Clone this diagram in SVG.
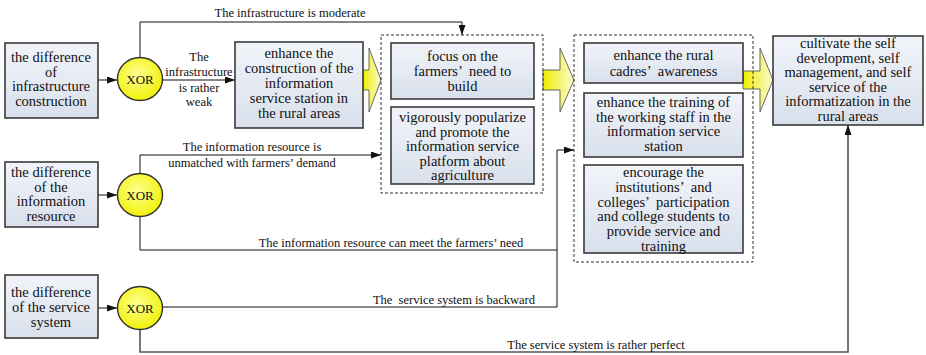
<svg xmlns="http://www.w3.org/2000/svg" width="926" height="355" viewBox="0 0 926 355">
  <style>
    .box { fill: url(#boxFill); stroke: #3a3a3a; stroke-width: 1.6; }
    .grp { fill: none; stroke: #333; stroke-width: 1; stroke-dasharray: 3 2; }
    .xor { fill: url(#xorFill); stroke: #333; stroke-width: 1.4; }
    .big { fill: url(#arrowFill); stroke: #666; stroke-width: 1; }
    .t { font-family: "Liberation Serif", "Times New Roman", serif; font-size: 14.5px; fill: #111; text-anchor: middle; }
    .lbl { font-family: "Liberation Serif", "Times New Roman", serif; font-size: 12.5px; fill: #111; text-anchor: middle; }
    .x { font-family: "Liberation Serif", "Times New Roman", serif; font-size: 13px; fill: #111; text-anchor: middle; }
    .ln { fill: none; stroke: #111; stroke-width: 1; }
    .lg { fill: none; stroke: #555; stroke-width: 1.6; }
  </style>
  <defs>
    <linearGradient id="boxFill" x1="0" y1="0" x2="0" y2="1">
      <stop offset="0" stop-color="#f1f4f9"/>
      <stop offset="1" stop-color="#d9e0ec"/>
    </linearGradient>
    <radialGradient id="xorFill" cx="0.45" cy="0.4" r="0.65">
      <stop offset="0" stop-color="#ffff90"/>
      <stop offset="1" stop-color="#f0f000"/>
    </radialGradient>
    <linearGradient id="arrowFill" x1="0" y1="0" x2="1" y2="0">
      <stop offset="0" stop-color="#eeee00"/>
      <stop offset="1" stop-color="#fbfbd2"/>
    </linearGradient>
    <marker id="ah" viewBox="0 0 10 7" refX="10" refY="3.5" markerWidth="11" markerHeight="7" markerUnits="userSpaceOnUse" orient="auto">
      <path d="M0,0 L10,3.5 L0,7 z" fill="#111"/>
    </marker>
  </defs>

  <!-- connectors -->
  <g id="connectors">
    <path class="ln" d="M98,80 H117" marker-end="url(#ah)"/>
    <path class="ln" d="M163,80 H235" marker-end="url(#ah)"/>
    <path class="ln" d="M140,58 V22 H462 V35" marker-end="url(#ah)"/>
    <path class="ln" d="M98,195 H117" marker-end="url(#ah)"/>
    <path class="ln" d="M140,174 V155 H381" marker-end="url(#ah)"/>
    <path class="ln" d="M140,216 V250 H557"/>
    <path class="ln" d="M98,308 H117" marker-end="url(#ah)"/>
    <path class="ln" d="M163,307 H557 V150 H574" marker-end="url(#ah)"/>
    <path class="lg" d="M140,330 V352 H848 V125" marker-end="url(#ah)"/>

    <text class="lbl" x="290" y="17">The infrastructure is moderate</text>
    <text class="lbl" x="199" y="61">The</text>
    <text class="lbl" x="199" y="76">infrastructure</text>
    <text class="lbl" x="199" y="92">is rather</text>
    <text class="lbl" x="199" y="106">weak</text>
    <text class="lbl" x="252" y="151">The information resource is</text>
    <text class="lbl" x="252" y="167">unmatched with farmers’ demand</text>
    <text class="lbl" x="391" y="247">The information resource can meet the farmers’ need</text>
    <text class="lbl" x="454" y="304" xml:space="preserve">The  service system is backward</text>
    <text class="lbl" x="596" y="349">The service system is rather perfect</text>
  </g>

  <!-- block arrows between stages -->
  <g id="flow1"><path class="big" d="M363,70 H369 V48 L381,80 L369,112 V90 H363 z"/></g>
  <g id="flow2"><path class="big" d="M543,70 H560 V48 L574,80 L560,112 V90 H543 z"/></g>
  <g id="flow3"><path class="big" d="M743,71 H760 V48 L773,80 L760,112 V89 H743 z"/></g>

  <!-- sources -->
  <g id="diff-infra">
    <rect class="box" x="5" y="43" width="93" height="75"/>
    <text class="t" x="51" y="62">the difference</text>
    <text class="t" x="51" y="76.5">of</text>
    <text class="t" x="51" y="91">infrastructure</text>
    <text class="t" x="51" y="105.5">construction</text>
  </g>
  <g id="diff-resource">
    <rect class="box" x="5" y="162" width="93" height="65"/>
    <text class="t" x="51" y="177">the difference</text>
    <text class="t" x="51" y="191.5">of the</text>
    <text class="t" x="51" y="206">information</text>
    <text class="t" x="51" y="220.5">resource</text>
  </g>
  <g id="diff-service">
    <rect class="box" x="5" y="275" width="93" height="63"/>
    <text class="t" x="51" y="297">the difference</text>
    <text class="t" x="51" y="312">of the service</text>
    <text class="t" x="51" y="327">system</text>
  </g>

  <!-- gates -->
  <g id="xor1"><ellipse class="xor" cx="140" cy="79" rx="22.5" ry="21.5"/><text class="x" x="140" y="83.5">XOR</text></g>
  <g id="xor2"><ellipse class="xor" cx="140" cy="195" rx="22.5" ry="21.5"/><text class="x" x="140" y="199.5">XOR</text></g>
  <g id="xor3"><ellipse class="xor" cx="140" cy="308" rx="22.5" ry="21.5"/><text class="x" x="140" y="312.5">XOR</text></g>

  <!-- stage 1 -->
  <g id="station">
    <rect class="box" x="235" y="42" width="128" height="86"/>
    <text class="t" x="299" y="58">enhance the</text>
    <text class="t" x="299" y="73">construction of the</text>
    <text class="t" x="299" y="88">information</text>
    <text class="t" x="299" y="103">service station in</text>
    <text class="t" x="299" y="118">the rural areas</text>
  </g>

  <!-- stage 2 -->
  <g id="stage2">
    <rect class="grp" x="381" y="35" width="162" height="158"/>
    <g id="farmers-need">
      <rect class="box" x="391" y="43" width="143" height="56"/>
      <text class="t" x="462.5" y="61">focus on the</text>
      <text class="t" x="462.5" y="76" xml:space="preserve">farmers’  need to</text>
      <text class="t" x="462.5" y="91">build</text>
    </g>
    <g id="platform">
      <rect class="box" x="391" y="107" width="143" height="77"/>
      <text class="t" x="462.5" y="122">vigorously popularize</text>
      <text class="t" x="462.5" y="136.5">and promote the</text>
      <text class="t" x="462.5" y="151">information service</text>
      <text class="t" x="462.5" y="165.5">platform about</text>
      <text class="t" x="462.5" y="180">agriculture</text>
    </g>
  </g>

  <!-- stage 3 -->
  <g id="stage3">
    <rect class="grp" x="574" y="35" width="179" height="227"/>
    <g id="cadres">
      <rect class="box" x="584" y="43" width="159" height="40"/>
      <text class="t" x="663.5" y="60">enhance the rural</text>
      <text class="t" x="663.5" y="76" xml:space="preserve">cadres’  awareness</text>
    </g>
    <g id="training">
      <rect class="box" x="584" y="93" width="159" height="64"/>
      <text class="t" x="663.5" y="107">enhance the training of</text>
      <text class="t" x="663.5" y="121.7">the working staff in the</text>
      <text class="t" x="663.5" y="136.4">information service</text>
      <text class="t" x="663.5" y="151.1">station</text>
    </g>
    <g id="colleges">
      <rect class="box" x="584" y="165" width="159" height="88"/>
      <text class="t" x="663.5" y="177">encourage the</text>
      <text class="t" x="663.5" y="191.8" xml:space="preserve">institutions’  and</text>
      <text class="t" x="663.5" y="206.6" xml:space="preserve">colleges’  participation</text>
      <text class="t" x="663.5" y="221.4">and college students to</text>
      <text class="t" x="663.5" y="236.2">provide service and</text>
      <text class="t" x="663.5" y="251">training</text>
    </g>
  </g>

  <!-- goal -->
  <g id="goal">
    <rect class="box" x="773" y="36" width="150" height="89"/>
    <text class="t" x="848" y="48">cultivate the self</text>
    <text class="t" x="848" y="62.6">development, self</text>
    <text class="t" x="848" y="77.2">management, and self</text>
    <text class="t" x="848" y="91.8">service of the</text>
    <text class="t" x="848" y="106.4">informatization in the</text>
    <text class="t" x="848" y="121">rural areas</text>
  </g>
</svg>
